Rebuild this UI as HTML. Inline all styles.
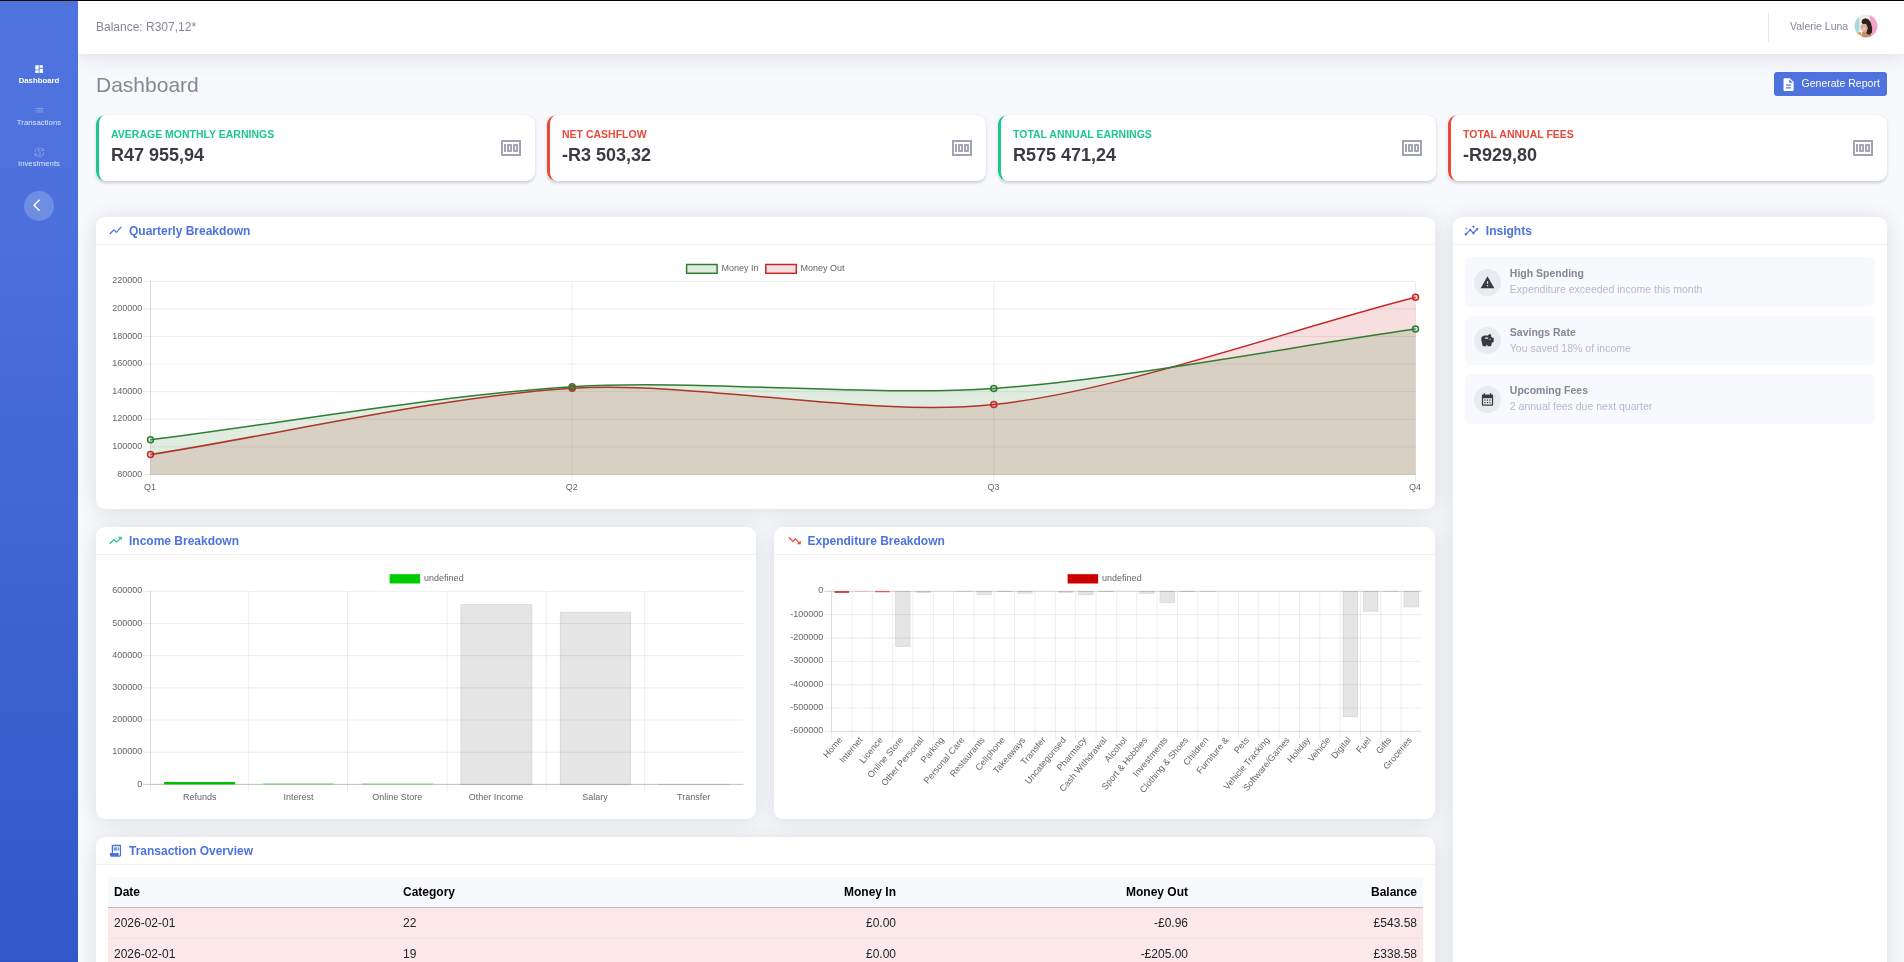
<!DOCTYPE html>
<html lang="en">
<head>
<meta charset="utf-8">
<title>Dashboard</title>
<style>
*{box-sizing:border-box;margin:0;padding:0}
html,body{width:1904px;height:962px;overflow:hidden}
body{background:#f8f9fc;font-family:"Liberation Sans",sans-serif;font-size:12px;color:#858796;position:relative}
#wrap{position:relative;width:1904px;height:962px;overflow:hidden;will-change:transform;background:#f8f9fc}
.abs{position:absolute}
.t{position:absolute;white-space:nowrap;line-height:1}
svg{display:block}
#topline{left:0;top:0;width:1904px;height:1px;background:linear-gradient(90deg,#141000 78px,#000 78px);z-index:50}
#sidebar{left:0;top:1px;width:78px;height:1370px;background:linear-gradient(180deg,#4e73df 10%,#224abe 100%);z-index:5}
#topbar{left:78px;top:1px;width:1826px;height:53px;background:#fff;box-shadow:0 2px 21px 0 rgba(58,59,69,.15);z-index:4}
.navlbl{left:0;width:78px;text-align:center;font-size:7.8px}
.card{position:absolute;background:#fff;border-radius:9px;box-shadow:0 2px 21px 0 rgba(58,59,69,.15)}
.stat{position:absolute;top:115px;height:66px;width:439px;background:#fff;border-radius:9px;box-shadow:0 1.5px 3px rgba(58,59,69,.22);overflow:hidden}
.stat .bar{position:absolute;left:0;top:0;bottom:0;width:12px;border-left:3px solid;border-radius:9px 0 0 9px}
.stat .ttl{left:15px;top:12px;font-size:10.5px;font-weight:700;line-height:14px}
.stat .val{left:15px;top:29px;font-size:18px;font-weight:700;color:#3a3b45;line-height:22px}
.stat svg{position:absolute;left:403px;top:21px}
.hdr{position:absolute;left:0;top:0;right:0;height:28px;border-bottom:1px solid #f2f2f2}
.hdr .t{left:33px;top:7px;font-size:12px;font-weight:700;color:#4e73df;line-height:14px}
.hdr svg{position:absolute;left:12px;top:5.8px}
.ins{position:absolute;left:12px;width:410px;height:49.6px;background:#f8f9fc;border-radius:6px}
.ins .circ{position:absolute;left:9px;top:11.9px;width:27px;height:27px;border-radius:50%;background:#e9ecef}
.ins .circ svg{position:absolute;left:6px;top:6px}
.ins .a{left:45px;top:8.2px;font-size:10.5px;font-weight:700;color:#858796;line-height:16px}
.ins .b{left:45px;top:25px;font-size:10.5px;color:#b7b9cc;line-height:16px}
table{border-collapse:separate;border-spacing:0;position:absolute;left:12px;top:40px;width:1315px;font-size:12px;color:#212529}
th,td{height:31px;padding:0 6px;text-align:left;white-space:nowrap}
th{font-weight:700;color:#000;background:#f8f9fc;border-bottom:1px solid #b9bbc4}
td{background:#fce8e8;border-bottom:1px solid #e3e6f0}
.r{text-align:right}
</style>
</head>
<body>
<div id="wrap">
<div id="topline" class="abs"></div>

<!-- SIDEBAR -->
<div id="sidebar" class="abs">
  <svg class="abs" style="left:33.9px;top:62.8px" width="10.2" height="10.2" viewBox="0 0 24 24" fill="#fff"><path d="M3 13h8V3H3v10zm0 8h8v-6H3v6zm10 0h8V11h-8v10zm0-18v6h8V3h-8z"/></svg>
  <div class="t navlbl" style="top:75.5px;color:#fff;font-weight:700">Dashboard</div>
  <svg class="abs" style="left:33.7px;top:104.4px" width="10.6" height="10.6" viewBox="0 0 24 24" fill="rgba(255,255,255,.3)"><path d="M3 13h2v-2H3v2zm0 4h2v-2H3v2zm0-8h2V7H3v2zm4 4h14v-2H7v2zm0 4h14v-2H7v2zM7 7v2h14V7H7z"/></svg>
  <div class="t navlbl" style="top:118.3px;color:rgba(255,255,255,.8)">Transactions</div>
  <svg class="abs" style="left:33.7px;top:145.8px" width="10.6" height="10.6" viewBox="0 0 24 24" fill="rgba(255,255,255,.3)"><path d="M12.89 11.1c-1.78-.59-2.64-.96-2.64-1.9 0-1.02 1.11-1.39 1.81-1.39 1.31 0 1.79.99 1.9 1.34l1.58-.67c-.15-.45-.82-1.92-2.54-2.24V5h-2v1.26c-2.48.56-2.49 2.86-2.49 2.96 0 2.27 2.25 2.91 3.35 3.31 1.58.56 2.28 1.07 2.28 2.03 0 1.13-1.05 1.61-1.98 1.61-1.82 0-2.34-1.87-2.4-2.09l-1.66.67c.63 2.19 2.28 2.78 2.9 2.96V19h2v-1.24c.4-.09 2.9-.59 2.9-3.22 0-1.39-.61-2.61-3.01-3.44zM3 21H1v-6h6v2H4.52c1.61 2.41 4.36 4 7.48 4 4.97 0 9-4.03 9-9h2c0 6.080-4.92 11-11 11-3.72 0-7.01-1.85-9-4.67V21zM1 12C1 5.920 5.920 1 12 1c3.72 0 7.010 1.850 9 4.670V3h2v6h-6V7h2.480C17.870 4.590 15.120 3 12 3c-4.970 0-9 4.030-9 9H1z"/></svg>
  <div class="t navlbl" style="top:159.3px;color:rgba(255,255,255,.8)">Investments</div>
  <div class="abs" style="left:24px;top:190px;width:30px;height:30px;border-radius:50%;background:rgba(255,255,255,.2)"></div>
  <svg class="abs" style="left:32.6px;top:197.1px" width="14.5" height="14.5" viewBox="0 0 24 24" fill="#fff"><path d="M11.67 3.87L9.9 2.1 0 12l9.9 9.9 1.77-1.77L3.54 12z"/></svg>
</div>

<!-- TOPBAR -->
<div id="topbar" class="abs">
  <div class="t" style="left:18px;top:19.5px;font-size:12px;color:#858796">Balance: R307,12*</div>
  <div class="abs" style="left:1690px;top:12px;width:1px;height:29px;background:#e3e6f0"></div>
  <div class="t" style="left:1712px;top:20px;font-size:10.5px;color:#858796">Valerie Luna</div>
  <svg class="abs" style="left:1775.9px;top:13.4px" width="24" height="24" viewBox="0 0 24 24">
    <defs><clipPath id="av"><circle cx="12" cy="12" r="11.4"/></clipPath><filter id="bl" x="-20%" y="-20%" width="140%" height="140%"><feGaussianBlur stdDeviation="0.6"/></filter></defs>
    <g clip-path="url(#av)">
      <rect width="24" height="24" fill="#f1eded"/>
      <g filter="url(#bl)">
      <path d="M-0.5 2.9 L5.2 2.9 L5.4 16.6 L2.9 18.8 L-0.5 18.8Z" fill="#a5dade"/>
      <path d="M15.6 -0.5 L24.5 -0.5 L24.5 24.5 L17.0 24.5Z" fill="#f4a2c6"/>
      <path d="M2.4 18.6 L6.8 17.9 L7.4 20.7 L3.8 21.6Z" fill="#dba25f"/>
      <path d="M8.8 17.5 L13.8 16.6 L17.5 20.2 L17.0 23.9 L7.0 23.9 L7.4 21.1Z" fill="#c48e70"/>
      <path d="M7.4 7.9 L8.4 5.6 L11.5 4.2 L14.7 5.4 L16.8 8.8 L18.2 13.8 L17.9 18.4 L15.2 21.1 L12.5 19.3 L13.1 14.7 L12.0 10.6 L8.8 10.2Z" fill="#2a211f"/>
      <path d="M7.4 10.6 L12.0 9.7 L13.8 13.8 L12.9 17.5 L10.2 18.4 L7.4 15.6 L6.3 13.1Z" fill="#dfab91"/>
      <ellipse cx="10.2" cy="14.8" rx="1.6" ry="1" fill="#efd2c4"/>
      </g>
    </g>
  </svg>
</div>

<!-- HEADING -->
<div class="t" style="left:96px;top:74px;font-size:21px;color:#858796">Dashboard</div>
<div class="abs" style="left:1774px;top:72px;width:113px;height:24px;border-radius:3px;background:#4e73df">
  <svg class="abs" style="left:7.1px;top:5.1px" width="15.2" height="15.2" viewBox="0 0 24 24" fill="#fff"><path d="M14 2H6c-1.100 0-1.990.9-1.990 2L4 20c0 1.100.89 2 1.990 2H18c1.100 0 2-.9 2-2V8l-6-6zm2 16H8v-2h8v2zm0-4H8v-2h8v2zm-3-5V3.500L18.500 9H13z"/></svg>
  <div class="t" style="left:27.6px;top:6px;font-size:10.5px;color:#fff">Generate Report</div>
</div>

<!-- STAT CARDS -->
<div class="stat" style="left:96px"><div class="bar" style="border-color:#1cc88a"></div>
  <div class="t ttl" style="color:#1cc88a">AVERAGE MONTHLY EARNINGS</div><div class="t val">R47 955,94</div>
  <svg width="24" height="24" viewBox="0 0 24 24" fill="#a3a4b3"><path d="M5 8h2v8H5zm7 0H9c-.55 0-1 .45-1 1v6c0 .55.45 1 1 1h3c.55 0 1-.45 1-1V9c0-.55-.45-1-1-1zm-1 6h-1v-4h1v4zm7-6h-3c-.55 0-1 .45-1 1v6c0 .55.45 1 1 1h3c.55 0 1-.45 1-1V9c0-.55-.45-1-1-1zm-1 6h-1v-4h1v4z"/><path d="M2 4v16h20V4H2zm2 14V6h16v12H4z"/></svg>
</div>
<div class="stat" style="left:547px"><div class="bar" style="border-color:#e74a3b"></div>
  <div class="t ttl" style="color:#e74a3b">NET CASHFLOW</div><div class="t val">-R3 503,32</div>
  <svg style="left:402.6px" width="24" height="24" viewBox="0 0 24 24" fill="#a3a4b3"><path d="M5 8h2v8H5zm7 0H9c-.55 0-1 .45-1 1v6c0 .55.45 1 1 1h3c.55 0 1-.45 1-1V9c0-.55-.45-1-1-1zm-1 6h-1v-4h1v4zm7-6h-3c-.55 0-1 .45-1 1v6c0 .55.45 1 1 1h3c.55 0 1-.45 1-1V9c0-.55-.45-1-1-1zm-1 6h-1v-4h1v4z"/><path d="M2 4v16h20V4H2zm2 14V6h16v12H4z"/></svg>
</div>
<div class="stat" style="left:998px;width:438px"><div class="bar" style="border-color:#1cc88a"></div>
  <div class="t ttl" style="color:#1cc88a">TOTAL ANNUAL EARNINGS</div><div class="t val">R575 471,24</div>
  <svg style="left:402px" width="24" height="24" viewBox="0 0 24 24" fill="#a3a4b3"><path d="M5 8h2v8H5zm7 0H9c-.55 0-1 .45-1 1v6c0 .55.45 1 1 1h3c.55 0 1-.45 1-1V9c0-.55-.45-1-1-1zm-1 6h-1v-4h1v4zm7-6h-3c-.55 0-1 .45-1 1v6c0 .55.45 1 1 1h3c.55 0 1-.45 1-1V9c0-.55-.45-1-1-1zm-1 6h-1v-4h1v4z"/><path d="M2 4v16h20V4H2zm2 14V6h16v12H4z"/></svg>
</div>
<div class="stat" style="left:1448px"><div class="bar" style="border-color:#e74a3b"></div>
  <div class="t ttl" style="color:#e74a3b">TOTAL ANNUAL FEES</div><div class="t val">-R929,80</div>
  <svg width="24" height="24" viewBox="0 0 24 24" fill="#a3a4b3"><path d="M5 8h2v8H5zm7 0H9c-.55 0-1 .45-1 1v6c0 .55.45 1 1 1h3c.55 0 1-.45 1-1V9c0-.55-.45-1-1-1zm-1 6h-1v-4h1v4zm7-6h-3c-.55 0-1 .45-1 1v6c0 .55.45 1 1 1h3c.55 0 1-.45 1-1V9c0-.55-.45-1-1-1zm-1 6h-1v-4h1v4z"/><path d="M2 4v16h20V4H2zm2 14V6h16v12H4z"/></svg>
</div>

<!-- QUARTERLY -->
<div class="card" id="quarterly" style="left:96px;top:217px;width:1339px;height:292px">
  <div class="hdr"><svg width="15" height="15" viewBox="0 0 24 24" fill="#4e73df"><path d="M3.5 18.490l6-6.010 4 4L22 6.920l-1.410-1.410-7.090 7.970-4-4L2 16.990z"/></svg><div class="t">Quarterly Breakdown</div></div>
  <svg class="abs" style="left:0;top:0" width="1339" height="292" viewBox="96 217 1339 292" font-family="Liberation Sans, sans-serif" font-size="9" fill="#666">
<rect x="686.6" y="264.5" width="30.5" height="8.8" fill="rgba(46,125,50,0.15)" stroke="#2e7d32" stroke-width="1.5"/>
<text x="721.5" y="270.9">Money In</text>
<rect x="765.8" y="264.5" width="30.5" height="8.8" fill="rgba(198,40,40,0.15)" stroke="#c62828" stroke-width="1.5"/>
<text x="800.5" y="270.9">Money Out</text>
<line x1="150.5" x2="150.5" y1="281.3" y2="482" stroke="rgba(0,0,0,0.1)" stroke-width="0.75"/>
<line x1="572.17" x2="572.17" y1="281.3" y2="482" stroke="rgba(0,0,0,0.1)" stroke-width="0.75"/>
<line x1="993.83" x2="993.83" y1="281.3" y2="482" stroke="rgba(0,0,0,0.1)" stroke-width="0.75"/>
<line x1="1415.5" x2="1415.5" y1="281.3" y2="482" stroke="rgba(0,0,0,0.1)" stroke-width="0.75"/>
<line x1="143" x2="1415.5" y1="281.3" y2="281.3" stroke="rgba(0,0,0,0.1)" stroke-width="0.75"/>
<text x="142.3" y="283.4" text-anchor="end">220000</text>
<line x1="143" x2="1415.5" y1="308.9" y2="308.9" stroke="rgba(0,0,0,0.1)" stroke-width="0.75"/>
<text x="142.3" y="311" text-anchor="end">200000</text>
<line x1="143" x2="1415.5" y1="336.5" y2="336.5" stroke="rgba(0,0,0,0.1)" stroke-width="0.75"/>
<text x="142.3" y="338.6" text-anchor="end">180000</text>
<line x1="143" x2="1415.5" y1="364.1" y2="364.1" stroke="rgba(0,0,0,0.1)" stroke-width="0.75"/>
<text x="142.3" y="366.2" text-anchor="end">160000</text>
<line x1="143" x2="1415.5" y1="391.7" y2="391.7" stroke="rgba(0,0,0,0.1)" stroke-width="0.75"/>
<text x="142.3" y="393.8" text-anchor="end">140000</text>
<line x1="143" x2="1415.5" y1="419.3" y2="419.3" stroke="rgba(0,0,0,0.1)" stroke-width="0.75"/>
<text x="142.3" y="421.4" text-anchor="end">120000</text>
<line x1="143" x2="1415.5" y1="446.9" y2="446.9" stroke="rgba(0,0,0,0.1)" stroke-width="0.75"/>
<text x="142.3" y="449" text-anchor="end">100000</text>
<line x1="143" x2="1415.5" y1="474.5" y2="474.5" stroke="rgba(0,0,0,0.1)" stroke-width="0.75"/>
<text x="142.3" y="476.6" text-anchor="end">80000</text>
<line x1="150.5" x2="150.5" y1="281.3" y2="474.5" stroke="rgba(0,0,0,0.1)" stroke-width="0.75"/>
<line x1="150.5" x2="1415.5" y1="474.5" y2="474.5" stroke="rgba(0,0,0,0.1)" stroke-width="0.75"/>
<text x="150.1" y="489.9" text-anchor="middle">Q1</text>
<text x="571.77" y="489.9" text-anchor="middle">Q2</text>
<text x="993.43" y="489.9" text-anchor="middle">Q3</text>
<text x="1415.1" y="489.9" text-anchor="middle">Q4</text>
<path d="M150.5 454.6 C277 434.71 444.94 395.84 572.17 388.3 C697.94 380.84 869.27 418.04 993.83 404.6 C1122.27 390.74 1289 329.49 1415.5 297.3 L1415.5 474.5 L150.5 474.5 Z" fill="rgba(198,40,40,0.15)"/>
<path d="M150.5 454.6 C277 434.71 444.94 395.84 572.17 388.3 C697.94 380.84 869.27 418.04 993.83 404.6 C1122.27 390.74 1289 329.49 1415.5 297.3" fill="none" stroke="#c62828" stroke-width="1.5"/>
<path d="M150.5 439.8 C277 423.87 445.17 394.44 572.17 386.7 C698.17 379.02 867.95 397 993.83 388.4 C1120.95 379.72 1289 346.89 1415.5 329.1 L1415.5 474.5 L150.5 474.5 Z" fill="rgba(46,125,50,0.15)"/>
<path d="M150.5 439.8 C277 423.87 445.17 394.44 572.17 386.7 C698.17 379.02 867.95 397 993.83 388.4 C1120.95 379.72 1289 346.89 1415.5 329.1" fill="none" stroke="#2e7d32" stroke-width="1.5"/>
<circle cx="150.5" cy="454.6" r="3" fill="rgba(198,40,40,0.15)" stroke="#c62828" stroke-width="1.5"/>
<circle cx="572.17" cy="388.3" r="3" fill="rgba(198,40,40,0.15)" stroke="#c62828" stroke-width="1.5"/>
<circle cx="993.83" cy="404.6" r="3" fill="rgba(198,40,40,0.15)" stroke="#c62828" stroke-width="1.5"/>
<circle cx="1415.5" cy="297.3" r="3" fill="rgba(198,40,40,0.15)" stroke="#c62828" stroke-width="1.5"/>
<circle cx="150.5" cy="439.8" r="3" fill="rgba(46,125,50,0.15)" stroke="#2e7d32" stroke-width="1.5"/>
<circle cx="572.17" cy="386.7" r="3" fill="rgba(46,125,50,0.15)" stroke="#2e7d32" stroke-width="1.5"/>
<circle cx="993.83" cy="388.4" r="3" fill="rgba(46,125,50,0.15)" stroke="#2e7d32" stroke-width="1.5"/>
<circle cx="1415.5" cy="329.1" r="3" fill="rgba(46,125,50,0.15)" stroke="#2e7d32" stroke-width="1.5"/>
</svg>
</div>

<!-- INSIGHTS -->
<div class="card" id="insights" style="left:1452.8px;top:217px;width:434px;height:800px">
  <div class="hdr"><svg style="left:11.6px" width="15" height="15" viewBox="0 0 24 24" fill="#4e73df"><path d="M21 8c-1.450 0-2.260 1.440-1.930 2.510l-3.550 3.560c-.3-.09-.74-.09-1.040 0l-2.550-2.550C12.270 10.450 11.460 9 10 9c-1.450 0-2.270 1.440-1.930 2.520l-4.560 4.550C2.440 15.740 1 16.550 1 18c0 1.100.9 2 2 2 1.450 0 2.260-1.440 1.930-2.510l4.550-4.560c.3.09.74.09 1.040 0l2.550 2.550C12.730 16.550 13.540 18 15 18c1.450 0 2.270-1.440 1.930-2.520l3.560-3.550c1.070.33 2.510-.48 2.510-1.930 0-1.100-.9-2-2-2z"/><path d="M15 9l.94-2.070L18 6l-2.060-.93L15 3l-.92 2.070L12 6l2.080.93z"/><path d="M3.500 11L4 9l2-.5L4 8l-.5-2L3 8l-2 .5L3 9z"/></svg><div class="t">Insights</div></div>
  <div class="ins" style="top:40.2px;height:49.6px"><div class="circ" style="top:11.9px"><svg width="15" height="15" viewBox="0 0 24 24" fill="#373c44"><path d="M1 21h22L12 2 1 21zm12-3h-2v-2h2v2zm0-4h-2v-4h2v4z"/></svg></div><div class="t a" style="top:8px">High Spending</div><div class="t b" style="top:24px">Expenditure exceeded income this month</div></div>
  <div class="ins" style="top:99.1px;height:48.7px"><div class="circ" style="top:10.9px"><svg width="15" height="15" viewBox="0 0 24 24" fill="#373c44"><path d="M19.830 7.500l-2.270-2.270c.07-.42.18-.81.32-1.150.08-.18.12-.37.12-.58 0-.83-.67-1.500-1.500-1.500-1.640 0-3.090.79-4 2h-5C4.460 4 2 6.460 2 9.500S4.500 21 4.500 21H10v-2h2v2h5.500l1.680-5.590 2.820-.94V7.500h-2.170zM13 9H8V7h5v2zm3 2c-.55 0-1-.45-1-1s.45-1 1-1 1 .45 1 1-.45 1-1 1z"/></svg></div><div class="t a" style="top:8.3px">Savings Rate</div><div class="t b" style="top:24.2px">You saved 18% of income</div></div>
  <div class="ins" style="top:157.1px;height:49.5px"><div class="circ" style="top:11.9px"><svg width="15" height="15" viewBox="0 0 24 24" fill="#373c44"><path d="M19 4h-1V2h-2v2H8V2H6v2H5c-1.110 0-1.990.9-1.990 2L3 20c0 1.100.89 2 2 2h14c1.100 0 2-.9 2-2V6c0-1.100-.9-2-2-2zm0 16H5V10h14v10zM9 14H7v-2h2v2zm4 0h-2v-2h2v2zm4 0h-2v-2h2v2zm-8 4H7v-2h2v2zm4 0h-2v-2h2v2zm4 0h-2v-2h2v2z"/></svg></div><div class="t a" style="top:8.2px">Upcoming Fees</div><div class="t b" style="top:24.2px">2 annual fees due next quarter</div></div>
</div>

<!-- INCOME -->
<div class="card" id="income" style="left:96px;top:527px;width:660px;height:292px">
  <div class="hdr"><svg width="15" height="15" viewBox="0 0 24 24" fill="#1cc88a"><path d="M16 6l2.290 2.290-4.880 4.880-4-4L2 16.590 3.410 18l6-6 4 4 6.300-6.290L22 12V6z"/></svg><div class="t">Income Breakdown</div></div>
  <svg class="abs" style="left:0;top:0" width="660" height="292" viewBox="96 527 660 292" font-family="Liberation Sans, sans-serif" font-size="9" fill="#666">
<rect x="389.6" y="574.2" width="30.5" height="9.3" fill="#00cc00"/>
<text x="424.1" y="580.9">undefined</text>
<line x1="150.6" x2="150.6" y1="591.3" y2="791.9" stroke="rgba(0,0,0,0.1)" stroke-width="0.75"/>
<line x1="248.35" x2="248.35" y1="591.3" y2="791.9" stroke="rgba(0,0,0,0.1)" stroke-width="0.75"/>
<line x1="347.6" x2="347.6" y1="591.3" y2="791.9" stroke="rgba(0,0,0,0.1)" stroke-width="0.75"/>
<line x1="447" x2="447" y1="591.3" y2="791.9" stroke="rgba(0,0,0,0.1)" stroke-width="0.75"/>
<line x1="546.2" x2="546.2" y1="591.3" y2="791.9" stroke="rgba(0,0,0,0.1)" stroke-width="0.75"/>
<line x1="644.4" x2="644.4" y1="591.3" y2="791.9" stroke="rgba(0,0,0,0.1)" stroke-width="0.75"/>
<line x1="143.1" x2="743.4" y1="591.3" y2="591.3" stroke="rgba(0,0,0,0.1)" stroke-width="0.75"/>
<text x="142.3" y="593.4" text-anchor="end">600000</text>
<line x1="143.1" x2="743.4" y1="623.48" y2="623.48" stroke="rgba(0,0,0,0.1)" stroke-width="0.75"/>
<text x="142.3" y="625.58" text-anchor="end">500000</text>
<line x1="143.1" x2="743.4" y1="655.67" y2="655.67" stroke="rgba(0,0,0,0.1)" stroke-width="0.75"/>
<text x="142.3" y="657.77" text-anchor="end">400000</text>
<line x1="143.1" x2="743.4" y1="687.85" y2="687.85" stroke="rgba(0,0,0,0.1)" stroke-width="0.75"/>
<text x="142.3" y="689.95" text-anchor="end">300000</text>
<line x1="143.1" x2="743.4" y1="720.03" y2="720.03" stroke="rgba(0,0,0,0.1)" stroke-width="0.75"/>
<text x="142.3" y="722.13" text-anchor="end">200000</text>
<line x1="143.1" x2="743.4" y1="752.22" y2="752.22" stroke="rgba(0,0,0,0.1)" stroke-width="0.75"/>
<text x="142.3" y="754.32" text-anchor="end">100000</text>
<line x1="143.1" x2="743.4" y1="784.4" y2="784.4" stroke="rgba(0,0,0,0.25)" stroke-width="0.75"/>
<text x="142.3" y="786.5" text-anchor="end">0</text>
<line x1="150.6" x2="150.6" y1="591.3" y2="784.4" stroke="rgba(0,0,0,0.1)" stroke-width="0.75"/>
<line x1="150.6" x2="743.4" y1="784.4" y2="784.4" stroke="rgba(0,0,0,0.1)" stroke-width="0.75"/>
<rect x="164.1" y="782" width="71" height="2.4" fill="#00c000"/>
<text x="199.7" y="799.9" text-anchor="middle">Refunds</text>
<rect x="263.23" y="783.5" width="71.14" height="0.9" fill="rgba(0,200,0,0.6)"/>
<text x="298.5" y="799.9" text-anchor="middle">Interest</text>
<rect x="362.03" y="783.5" width="71.14" height="0.9" fill="rgba(0,200,0,0.5)"/>
<text x="397.3" y="799.9" text-anchor="middle">Online Store</text>
<rect x="460.8" y="604.5" width="71.1" height="179.9" fill="rgba(0,0,0,0.1)" stroke="rgba(0,0,0,0.1)" stroke-width="0.75"/>
<text x="496.1" y="799.9" text-anchor="middle">Other Income</text>
<rect x="560.2" y="612.2" width="70.6" height="172.2" fill="rgba(0,0,0,0.1)" stroke="rgba(0,0,0,0.1)" stroke-width="0.75"/>
<text x="594.9" y="799.9" text-anchor="middle">Salary</text>
<rect x="658.43" y="784.2" width="71.14" height="0.2" fill="rgba(0,0,0,0.1)" stroke="rgba(0,0,0,0.1)" stroke-width="0.75"/>
<text x="693.7" y="799.9" text-anchor="middle">Transfer</text>
</svg>
</div>

<!-- EXPENDITURE -->
<div class="card" id="expend" style="left:774px;top:527px;width:661px;height:292px">
  <div class="hdr"><svg style="left:12.5px" width="15" height="15" viewBox="0 0 24 24" fill="#e74a3b"><path d="M16 18l2.290-2.290-4.880-4.880-4 4L2 7.410 3.410 6l6 6 4-4 6.300 6.290L22 12v6z"/></svg><div class="t" style="left:33.5px">Expenditure Breakdown</div></div>
  <svg class="abs" style="left:0;top:0" width="661" height="292" viewBox="774 527 661 292" font-family="Liberation Sans, sans-serif" font-size="9" fill="#666">
<rect x="1067.6" y="574.2" width="30.5" height="9.3" fill="#cc0000"/>
<text x="1102.1" y="580.9">undefined</text>
<line x1="831.6" x2="831.6" y1="591.3" y2="738.8" stroke="rgba(0,0,0,0.1)" stroke-width="0.75"/>
<line x1="851.94" x2="851.94" y1="591.3" y2="738.8" stroke="rgba(0,0,0,0.1)" stroke-width="0.75"/>
<line x1="872.28" x2="872.28" y1="591.3" y2="738.8" stroke="rgba(0,0,0,0.1)" stroke-width="0.75"/>
<line x1="892.62" x2="892.62" y1="591.3" y2="738.8" stroke="rgba(0,0,0,0.1)" stroke-width="0.75"/>
<line x1="912.97" x2="912.97" y1="591.3" y2="738.8" stroke="rgba(0,0,0,0.1)" stroke-width="0.75"/>
<line x1="933.31" x2="933.31" y1="591.3" y2="738.8" stroke="rgba(0,0,0,0.1)" stroke-width="0.75"/>
<line x1="953.65" x2="953.65" y1="591.3" y2="738.8" stroke="rgba(0,0,0,0.1)" stroke-width="0.75"/>
<line x1="973.99" x2="973.99" y1="591.3" y2="738.8" stroke="rgba(0,0,0,0.1)" stroke-width="0.75"/>
<line x1="994.33" x2="994.33" y1="591.3" y2="738.8" stroke="rgba(0,0,0,0.1)" stroke-width="0.75"/>
<line x1="1014.67" x2="1014.67" y1="591.3" y2="738.8" stroke="rgba(0,0,0,0.1)" stroke-width="0.75"/>
<line x1="1035.01" x2="1035.01" y1="591.3" y2="738.8" stroke="rgba(0,0,0,0.1)" stroke-width="0.75"/>
<line x1="1055.36" x2="1055.36" y1="591.3" y2="738.8" stroke="rgba(0,0,0,0.1)" stroke-width="0.75"/>
<line x1="1075.7" x2="1075.7" y1="591.3" y2="738.8" stroke="rgba(0,0,0,0.1)" stroke-width="0.75"/>
<line x1="1096.04" x2="1096.04" y1="591.3" y2="738.8" stroke="rgba(0,0,0,0.1)" stroke-width="0.75"/>
<line x1="1116.38" x2="1116.38" y1="591.3" y2="738.8" stroke="rgba(0,0,0,0.1)" stroke-width="0.75"/>
<line x1="1136.72" x2="1136.72" y1="591.3" y2="738.8" stroke="rgba(0,0,0,0.1)" stroke-width="0.75"/>
<line x1="1157.06" x2="1157.06" y1="591.3" y2="738.8" stroke="rgba(0,0,0,0.1)" stroke-width="0.75"/>
<line x1="1177.4" x2="1177.4" y1="591.3" y2="738.8" stroke="rgba(0,0,0,0.1)" stroke-width="0.75"/>
<line x1="1197.74" x2="1197.74" y1="591.3" y2="738.8" stroke="rgba(0,0,0,0.1)" stroke-width="0.75"/>
<line x1="1218.09" x2="1218.09" y1="591.3" y2="738.8" stroke="rgba(0,0,0,0.1)" stroke-width="0.75"/>
<line x1="1238.43" x2="1238.43" y1="591.3" y2="738.8" stroke="rgba(0,0,0,0.1)" stroke-width="0.75"/>
<line x1="1258.77" x2="1258.77" y1="591.3" y2="738.8" stroke="rgba(0,0,0,0.1)" stroke-width="0.75"/>
<line x1="1279.11" x2="1279.11" y1="591.3" y2="738.8" stroke="rgba(0,0,0,0.1)" stroke-width="0.75"/>
<line x1="1299.45" x2="1299.45" y1="591.3" y2="738.8" stroke="rgba(0,0,0,0.1)" stroke-width="0.75"/>
<line x1="1319.79" x2="1319.79" y1="591.3" y2="738.8" stroke="rgba(0,0,0,0.1)" stroke-width="0.75"/>
<line x1="1340.13" x2="1340.13" y1="591.3" y2="738.8" stroke="rgba(0,0,0,0.1)" stroke-width="0.75"/>
<line x1="1360.48" x2="1360.48" y1="591.3" y2="738.8" stroke="rgba(0,0,0,0.1)" stroke-width="0.75"/>
<line x1="1380.82" x2="1380.82" y1="591.3" y2="738.8" stroke="rgba(0,0,0,0.1)" stroke-width="0.75"/>
<line x1="1401.16" x2="1401.16" y1="591.3" y2="738.8" stroke="rgba(0,0,0,0.1)" stroke-width="0.75"/>
<line x1="824.1" x2="1421.5" y1="591.3" y2="591.3" stroke="rgba(0,0,0,0.25)" stroke-width="0.75"/>
<text x="823.3" y="593.4" text-anchor="end">0</text>
<line x1="824.1" x2="1421.5" y1="614.63" y2="614.63" stroke="rgba(0,0,0,0.1)" stroke-width="0.75"/>
<text x="823.3" y="616.73" text-anchor="end">-100000</text>
<line x1="824.1" x2="1421.5" y1="637.97" y2="637.97" stroke="rgba(0,0,0,0.1)" stroke-width="0.75"/>
<text x="823.3" y="640.07" text-anchor="end">-200000</text>
<line x1="824.1" x2="1421.5" y1="661.3" y2="661.3" stroke="rgba(0,0,0,0.1)" stroke-width="0.75"/>
<text x="823.3" y="663.4" text-anchor="end">-300000</text>
<line x1="824.1" x2="1421.5" y1="684.63" y2="684.63" stroke="rgba(0,0,0,0.1)" stroke-width="0.75"/>
<text x="823.3" y="686.73" text-anchor="end">-400000</text>
<line x1="824.1" x2="1421.5" y1="707.97" y2="707.97" stroke="rgba(0,0,0,0.1)" stroke-width="0.75"/>
<text x="823.3" y="710.07" text-anchor="end">-500000</text>
<line x1="824.1" x2="1421.5" y1="731.3" y2="731.3" stroke="rgba(0,0,0,0.1)" stroke-width="0.75"/>
<text x="823.3" y="733.4" text-anchor="end">-600000</text>
<line x1="831.6" x2="831.6" y1="591.3" y2="731.3" stroke="rgba(0,0,0,0.1)" stroke-width="0.75"/>
<line x1="831.6" x2="1421.5" y1="731.3" y2="731.3" stroke="rgba(0,0,0,0.1)" stroke-width="0.75"/>
<rect x="834.45" y="591.3" width="14.65" height="1.4" fill="#cc0000"/>
<text transform="translate(840.37 738.2) rotate(-50)" text-anchor="end" y="3.1">Home</text>
<rect x="854.79" y="591.3" width="14.65" height="0.4" fill="rgba(255,0,0,0.3)"/>
<text transform="translate(860.71 738.2) rotate(-50)" text-anchor="end" y="3.1">Internet</text>
<rect x="875.13" y="591.3" width="14.65" height="0.9" fill="#f02020"/>
<text transform="translate(881.05 738.2) rotate(-50)" text-anchor="end" y="3.1">Licence</text>
<rect x="895.47" y="591.3" width="14.65" height="55.2" fill="rgba(0,0,0,0.1)" stroke="rgba(0,0,0,0.1)" stroke-width="0.75"/>
<text transform="translate(901.39 738.2) rotate(-50)" text-anchor="end" y="3.1">Online Store</text>
<rect x="915.81" y="591.3" width="14.65" height="1.3" fill="rgba(0,0,0,0.1)" stroke="rgba(0,0,0,0.1)" stroke-width="0.75"/>
<text transform="translate(921.74 738.2) rotate(-50)" text-anchor="end" y="3.1">Other Personal</text>
<text transform="translate(942.08 738.2) rotate(-50)" text-anchor="end" y="3.1">Parking</text>
<rect x="956.5" y="591.3" width="14.65" height="0.3" fill="rgba(0,0,0,0.1)" stroke="rgba(0,0,0,0.1)" stroke-width="0.75"/>
<text transform="translate(962.42 738.2) rotate(-50)" text-anchor="end" y="3.1">Personal Care</text>
<rect x="976.84" y="591.3" width="14.65" height="3.3" fill="rgba(0,0,0,0.1)" stroke="rgba(0,0,0,0.1)" stroke-width="0.75"/>
<text transform="translate(982.76 738.2) rotate(-50)" text-anchor="end" y="3.1">Restaurants</text>
<rect x="997.18" y="591.3" width="14.65" height="0.4" fill="rgba(0,0,0,0.1)" stroke="rgba(0,0,0,0.1)" stroke-width="0.75"/>
<text transform="translate(1003.1 738.2) rotate(-50)" text-anchor="end" y="3.1">Cellphone</text>
<rect x="1017.52" y="591.3" width="14.65" height="2" fill="rgba(0,0,0,0.1)" stroke="rgba(0,0,0,0.1)" stroke-width="0.75"/>
<text transform="translate(1023.44 738.2) rotate(-50)" text-anchor="end" y="3.1">Takeaways</text>
<text transform="translate(1043.78 738.2) rotate(-50)" text-anchor="end" y="3.1">Transfer</text>
<rect x="1058.2" y="591.3" width="14.65" height="1.2" fill="rgba(0,0,0,0.1)" stroke="rgba(0,0,0,0.1)" stroke-width="0.75"/>
<text transform="translate(1064.13 738.2) rotate(-50)" text-anchor="end" y="3.1">Uncategorised</text>
<rect x="1078.54" y="591.3" width="14.65" height="3.4" fill="rgba(0,0,0,0.1)" stroke="rgba(0,0,0,0.1)" stroke-width="0.75"/>
<text transform="translate(1084.47 738.2) rotate(-50)" text-anchor="end" y="3.1">Pharmacy</text>
<rect x="1098.89" y="591.3" width="14.65" height="0.4" fill="rgba(0,0,0,0.1)" stroke="rgba(0,0,0,0.1)" stroke-width="0.75"/>
<text transform="translate(1104.81 738.2) rotate(-50)" text-anchor="end" y="3.1">Cash Withdrawal</text>
<text transform="translate(1125.15 738.2) rotate(-50)" text-anchor="end" y="3.1">Alcohol</text>
<rect x="1139.57" y="591.3" width="14.65" height="2.2" fill="rgba(0,0,0,0.1)" stroke="rgba(0,0,0,0.1)" stroke-width="0.75"/>
<text transform="translate(1145.49 738.2) rotate(-50)" text-anchor="end" y="3.1">Sport &amp; Hobbies</text>
<rect x="1159.91" y="591.3" width="14.65" height="11.4" fill="rgba(0,0,0,0.1)" stroke="rgba(0,0,0,0.1)" stroke-width="0.75"/>
<text transform="translate(1165.83 738.2) rotate(-50)" text-anchor="end" y="3.1">Investments</text>
<rect x="1180.25" y="591.3" width="14.65" height="0.4" fill="rgba(0,0,0,0.1)" stroke="rgba(0,0,0,0.1)" stroke-width="0.75"/>
<text transform="translate(1186.17 738.2) rotate(-50)" text-anchor="end" y="3.1">Clothing &amp; Shoes</text>
<rect x="1200.59" y="591.3" width="14.65" height="0.3" fill="rgba(0,0,0,0.1)" stroke="rgba(0,0,0,0.1)" stroke-width="0.75"/>
<text transform="translate(1206.52 738.2) rotate(-50)" text-anchor="end" y="3.1">Children</text>
<text transform="translate(1226.86 738.2) rotate(-50)" text-anchor="end" y="3.1">Furniture &amp;</text>
<text transform="translate(1247.2 738.2) rotate(-50)" text-anchor="end" y="3.1">Pets</text>
<text transform="translate(1267.54 738.2) rotate(-50)" text-anchor="end" y="3.1">Vehicle Tracking</text>
<text transform="translate(1287.88 738.2) rotate(-50)" text-anchor="end" y="3.1">Software/Games</text>
<text transform="translate(1308.22 738.2) rotate(-50)" text-anchor="end" y="3.1">Holiday</text>
<text transform="translate(1328.56 738.2) rotate(-50)" text-anchor="end" y="3.1">Vehicle</text>
<rect x="1342.98" y="591.3" width="14.65" height="125.4" fill="rgba(0,0,0,0.1)" stroke="rgba(0,0,0,0.1)" stroke-width="0.75"/>
<text transform="translate(1348.91 738.2) rotate(-50)" text-anchor="end" y="3.1">Digital</text>
<rect x="1363.32" y="591.3" width="14.65" height="20" fill="rgba(0,0,0,0.1)" stroke="rgba(0,0,0,0.1)" stroke-width="0.75"/>
<text transform="translate(1369.25 738.2) rotate(-50)" text-anchor="end" y="3.1">Fuel</text>
<rect x="1383.67" y="591.3" width="14.65" height="0.3" fill="rgba(0,0,0,0.1)" stroke="rgba(0,0,0,0.1)" stroke-width="0.75"/>
<text transform="translate(1389.59 738.2) rotate(-50)" text-anchor="end" y="3.1">Gifts</text>
<rect x="1404.01" y="591.3" width="14.65" height="15.8" fill="rgba(0,0,0,0.1)" stroke="rgba(0,0,0,0.1)" stroke-width="0.75"/>
<text transform="translate(1409.93 738.2) rotate(-50)" text-anchor="end" y="3.1">Groceries</text>
</svg>
</div>

<!-- TRANSACTIONS -->
<div class="card" id="trans" style="left:96px;top:837px;width:1339px;height:300px">
  <div class="hdr"><svg width="15" height="15" viewBox="0 0 24 24" fill="#4e73df"><path d="M19.500 3.500L18 2l-1.500 1.500L15 2l-1.500 1.500L12 2l-1.500 1.500L9 2 7.500 3.500 6 2v14H3v3c0 1.660 1.340 3 3 3h12c1.660 0 3-1.340 3-3V2l-1.500 1.500zM19 19c0 .55-.45 1-1 1s-1-.45-1-1v-3H8V5h11v14z"/><path d="M9 7h6v2H9zM16 7h2v2h-2zM9 10h6v2H9zM16 10h2v2h-2z"/></svg><div class="t">Transaction Overview</div></div>
  <table>
    <thead><tr><th style="width:289px">Date</th><th style="width:214px">Category</th><th class="r" style="width:291px">Money In</th><th class="r" style="width:292px">Money Out</th><th class="r">Balance</th></tr></thead>
    <tbody>
      <tr><td>2026-02-01</td><td>22</td><td class="r">£0.00</td><td class="r">-£0.96</td><td class="r">£543.58</td></tr>
      <tr><td>2026-02-01</td><td>19</td><td class="r">£0.00</td><td class="r">-£205.00</td><td class="r">£338.58</td></tr>
      <tr><td>2026-02-01</td><td>19</td><td class="r">£0.00</td><td class="r">-£205.00</td><td class="r">£338.58</td></tr>
    </tbody>
  </table>
</div>
</div>
</body>
</html>
